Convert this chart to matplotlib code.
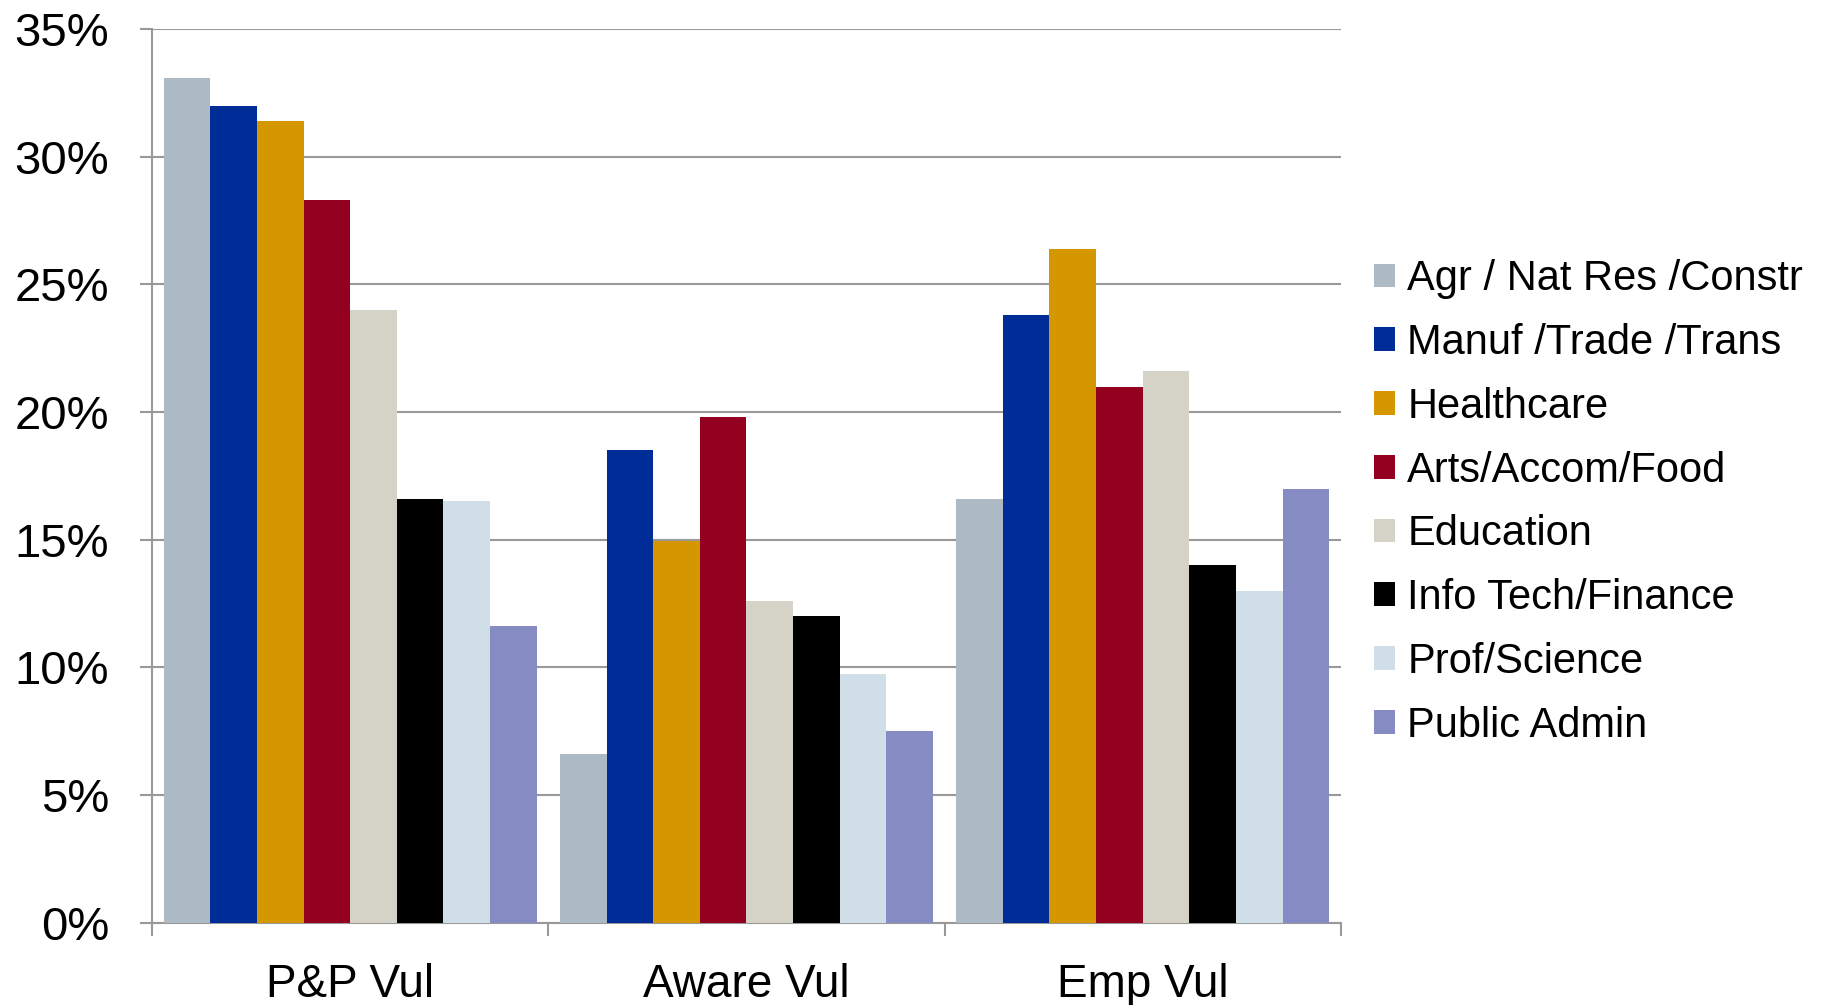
import numpy as np
import matplotlib
matplotlib.use('Agg')
import matplotlib.pyplot as plt
from matplotlib.ticker import PercentFormatter, FixedLocator

plt.rcParams['font.family'] = ['Liberation Sans', 'DejaVu Sans']

# Kategoriler ve seriler
groups = ['P&P Vul', 'Aware Vul', 'Emp Vul']
sectors = ['Agr / Nat Res /Constr', 'Manuf /Trade /Trans', 'Healthcare', 'Arts/Accom/Food',
           'Education', 'Info Tech/Finance', 'Prof/Science', 'Public Admin']
agr = [33.1, 6.6, 16.6]
manuf = [32.0, 18.5, 23.8]
health = [31.4, 14.95, 26.4]
arts = [28.3, 19.8, 21.0]
edu = [24.0, 12.6, 21.6]
it_fin = [16.6, 12.0, 14.0]
prof = [16.5, 9.75, 13.0]
public = [11.6, 7.5, 17.0]
colors = ['#adb9c3', '#002c97', '#d49700', '#940020', '#d5d3c8', '#000000', '#d0dee7', '#868bc3']

series = [agr, manuf, health, arts, edu, it_fin, prof, public]

fig = plt.figure(figsize=(18.26, 10.05), dpi=100)
ax = fig.add_axes([0.0833, 0.082, 0.651, 0.889])

x = np.arange(len(groups))
w = 1 / 8.5
for i, (vals, c, name) in enumerate(zip(series, colors, sectors)):
    ax.bar(x + (i - 3.5) * w, vals, width=w, color=c, label=name, zorder=3)

ax.set_xlim(-0.5, 2.5)
ax.set_ylim(0, 35)
ax.set_yticks(np.arange(0, 36, 5))
ax.yaxis.set_major_formatter(PercentFormatter(decimals=0))
ax.yaxis.grid(True, color='#999999', linewidth=1.5, zorder=0)

# Grup etiketleri ve grup sınırlarındaki çentikler
ax.set_xticks(x)
ax.set_xticklabels(groups)
ax.xaxis.set_minor_locator(FixedLocator([-0.5, 0.5, 1.5, 2.5]))
ax.tick_params(axis='x', which='major', length=0, pad=29, labelsize=33)
ax.tick_params(axis='x', which='minor', length=9, width=1.5, color='#999999', direction='out')
ax.tick_params(axis='y', length=9, width=1.5, color='#999999', pad=22, labelsize=34)

for s in ['top', 'right']:
    ax.spines[s].set_visible(False)
for s in ['left', 'bottom']:
    ax.spines[s].set_color('#999999')
    ax.spines[s].set_linewidth(1.5)

fig.legend(loc='center left', bbox_to_anchor=(0.741, 0.5), frameon=False, fontsize=30,
           handlelength=0.5, handleheight=0.5, handletextpad=0.3, labelspacing=0.57, borderpad=0)

plt.savefig('out.png', dpi=100)
